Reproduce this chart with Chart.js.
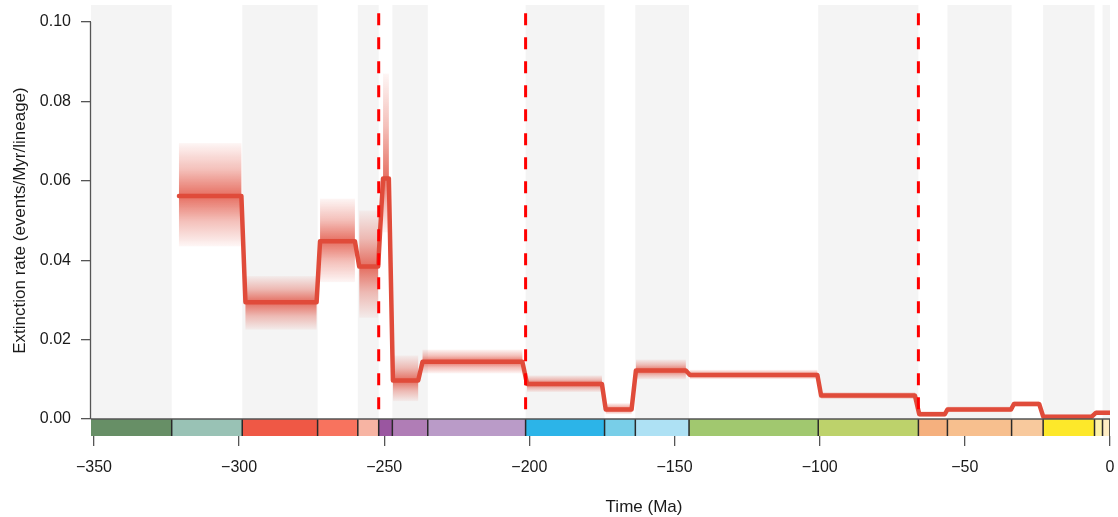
<!DOCTYPE html>
<html>
<head>
<meta charset="utf-8">
<title>Extinction rate through time</title>
<script src="https://cdn.jsdelivr.net/npm/chart.js@4"></script>
<style>
    html, body { margin: 0; padding: 0; background: #ffffff; }
    #wrap { width: 1118px; height: 517px; }
</style>
</head>
<body>
<div id="wrap"><canvas id="rates" width="1118" height="517"></canvas></div>
<script>
// === Rate regimes (Ma) and mean extinction rate (events/Myr/lineage) ===
const segStart = [-320.7, -297.8, -272.1, -258.6, -250.4, -247.0, -236.8, -200.8, -173.7, -163.3, -144.7, -99.5, -65.7, -56.0, -33.1, -23.0, -4.8];
const segEnd   = [-299.2, -273.3, -260.1, -252.1, -248.4, -238.3, -202.4, -175.0, -164.8, -146.1, -100.8, -67.2, -56.9, -34.1, -24.4, -6.3, 0];
const rate     = [0.0562, 0.0294, 0.0448, 0.0384, 0.0606, 0.0097, 0.0144, 0.0088, 0.0024, 0.0122, 0.0111, 0.0059, 0.0012, 0.0024, 0.0038, 0.0006, 0.0016];
const rateHigh = [0.0695, 0.0360, 0.0555, 0.0525, 0.0870, 0.0160, 0.0175, 0.0110, 0.0040, 0.0150, 0.0124, 0.0068, 0.0020, 0.0032, 0.0046, 0.0012, 0.0022];
const rateLow  = [0.0435, 0.0225, 0.0345, 0.0255, 0.0470, 0.0045, 0.0115, 0.0068, 0.0012, 0.0100, 0.0100, 0.0050, 0.0005, 0.0017, 0.0031, 0.0001, 0.0010];

// === Mass extinction events (Ma) ===
const eventTimes = [-251.9, -201.3, -66.0];
const eventTop = 0.1022;

// === Geological time scale ===
const unitStart = [-358.9, -323.2, -298.9, -272.95, -259.1, -251.9, -247.2, -235.0, -201.3, -174.1, -163.5, -145.0, -100.5, -66.0, -56.0, -33.9, -23.03, -5.333, -2.58, -0.0117];
const unitEnd   = [-323.2, -298.9, -272.95, -259.1, -251.9, -247.2, -235.0, -201.3, -174.1, -163.5, -145.0, -100.5, -66.0, -56.0, -33.9, -23.03, -5.333, -2.58, -0.0117, 0];
const unitColor = ["#678F66", "#99C2B5", "#EF5845", "#F8735E", "#F7B4A3", "#9A56A0", "#B07DB6", "#BA9BC8",
                   "#2CB4E8", "#78CEE8", "#AEE1F4", "#A1C86F", "#BDD26B", "#F5B07E", "#F7BF8E", "#F8C99D",
                   "#FDE82A", "#FEF2A8", "#FEEDC4", "#FEF2E0"];

// === Axis ticks ===
const xTicks = [-350, -300, -250, -200, -150, -100, -50, 0];
const yTicks = [0, 0.02, 0.04, 0.06, 0.08, 0.10];

const FONT = "'Liberation Sans', Arial, Helvetica, sans-serif";
const LINE_RGB = "224, 75, 58";

const stepPoints = [];
segStart.forEach((s, i) => {
    stepPoints.push({ x: s, y: rate[i] }, { x: segEnd[i], y: rate[i] });
});

// no extra label padding, chart area is set by layout.padding and afterFit
const noPadding = (s) => {
    s.paddingTop = 0;
    s.paddingBottom = 0;
    s.paddingLeft = 0;
    s.paddingRight = 0;
};

// === Backdrop, shading and time scale ===
const timescalePlugin = {
    id: "timescale",
    beforeDatasetsDraw(chart) {
        const { ctx, chartArea, scales: { x, y } } = chart;
        const y0 = y.getPixelForValue(0);
        ctx.save();
        ctx.beginPath();
        ctx.rect(chartArea.left, chartArea.top, chartArea.right - chartArea.left, chartArea.bottom - chartArea.top);
        ctx.clip();

        // alternating grey bands
        ctx.fillStyle = "#F4F4F4";
        unitStart.forEach((s, i) => {
            if (i % 2) return;
            const x0 = x.getPixelForValue(s);
            const x1 = x.getPixelForValue(unitEnd[i]);
            ctx.fillRect(x0, chartArea.top, x1 - x0, y0 - chartArea.top);
        });

        // uncertainty shading
        segStart.forEach((s, i) => {
            const x0 = x.getPixelForValue(s);
            const x1 = x.getPixelForValue(segEnd[i]);
            const top = y.getPixelForValue(rateHigh[i]);
            const bot = y.getPixelForValue(rateLow[i]);
            const mid = y.getPixelForValue(rate[i]);
            const m = Math.min(0.98, Math.max(0.02, (mid - top) / (bot - top)));
            const g = ctx.createLinearGradient(0, top, 0, bot);
            g.addColorStop(0, `rgba(${LINE_RGB}, 0.05)`);
            g.addColorStop(m * 0.5, `rgba(${LINE_RGB}, 0.35)`);
            g.addColorStop(m, `rgba(${LINE_RGB}, 0.8)`);
            g.addColorStop(m + (1 - m) * 0.5, `rgba(${LINE_RGB}, 0.35)`);
            g.addColorStop(1, `rgba(${LINE_RGB}, 0.05)`);
            ctx.fillStyle = g;
            ctx.fillRect(x0, top, x1 - x0, bot - top);
        });
        ctx.restore();
    },
    afterDatasetsDraw(chart) {
        const { ctx, chartArea, scales: { x, y } } = chart;
        const y0 = y.getPixelForValue(0);
        ctx.save();
        ctx.beginPath();
        ctx.rect(chartArea.left, chartArea.top, chartArea.right - chartArea.left, chartArea.bottom - chartArea.top + 1);
        ctx.clip();

        // coloured period / epoch boxes
        unitStart.forEach((s, i) => {
            const x0 = x.getPixelForValue(s);
            const x1 = x.getPixelForValue(unitEnd[i]);
            ctx.fillStyle = unitColor[i];
            ctx.fillRect(x0, y0, x1 - x0, chartArea.bottom - y0);
        });
        ctx.strokeStyle = "#2a2a2a";
        ctx.lineWidth = 1.5;
        unitStart.forEach((s) => {
            const px = x.getPixelForValue(s);
            ctx.beginPath();
            ctx.moveTo(px, y0);
            ctx.lineTo(px, chartArea.bottom);
            ctx.stroke();
        });
        ctx.strokeStyle = "#555555";
        ctx.lineWidth = 1.3;
        ctx.beginPath();
        ctx.moveTo(chartArea.left, y0);
        ctx.lineTo(chartArea.right, y0);
        ctx.stroke();
        ctx.restore();

        // y axis line, from first to last tick
        ctx.save();
        ctx.strokeStyle = "#555555";
        ctx.lineWidth = 1.3;
        ctx.beginPath();
        ctx.moveTo(chartArea.left - 0.5, y.getPixelForValue(yTicks[0]));
        ctx.lineTo(chartArea.left - 0.5, y.getPixelForValue(yTicks[yTicks.length - 1]));
        ctx.stroke();

        // x axis title
        ctx.fillStyle = "#1a1a1a";
        ctx.font = `17px ${FONT}`;
        ctx.textAlign = "center";
        ctx.textBaseline = "middle";
        ctx.fillText("Time (Ma)", 644, 507);
        ctx.restore();
    },
};

const eventSets = eventTimes.map((t) => ({
    data: [{ x: t, y: eventTop }, { x: t, y: 0 }],
    borderColor: "#FF0000",
    borderWidth: 3,
    borderDash: [12, 12],
    pointRadius: 0,
    order: 0,
}));

const chart = new Chart(document.getElementById("rates"), {
    type: "line",
    data: {
        datasets: [
            ...eventSets,
            {
                data: stepPoints,
                borderColor: `rgb(${LINE_RGB})`,
                borderWidth: 4.5,
                borderCapStyle: "round",
                borderJoinStyle: "round",
                pointRadius: 0,
                tension: 0,
                order: 1,
            },
        ],
    },
    options: {
        responsive: false,
        animation: false,
        layout: { padding: { top: 5, right: 8, left: 0, bottom: 0 } },
        plugins: {
            legend: { display: false },
            tooltip: { enabled: false },
        },
        scales: {
            x: {
                type: "linear",
                min: -351,
                max: 0,
                afterBuildTicks: (s) => { s.ticks = xTicks.map((v) => ({ value: v })); },
                afterFit: (s) => { s.height = 81; noPadding(s); },
                border: { display: false },
                grid: { drawOnChartArea: false, drawTicks: true, tickLength: 10, color: "#555555", lineWidth: 1.3 },
                ticks: {
                    autoSkip: false,
                    maxRotation: 0,
                    padding: 12,
                    color: "#1a1a1a",
                    font: { family: FONT, size: 16 },
                    callback: (v) => (v < 0 ? "\u2212" + Math.abs(v) : String(v)),
                },
            },
            y: {
                min: -0.00428,
                max: 0.10428,
                afterBuildTicks: (s) => { s.ticks = yTicks.map((v) => ({ value: v })); },
                afterFit: (s) => { s.width = 91; noPadding(s); },
                border: { display: false },
                grid: { drawOnChartArea: false, drawTicks: true, tickLength: 10, color: "#555555", lineWidth: 1.3 },
                ticks: {
                    padding: 10,
                    color: "#1a1a1a",
                    font: { family: FONT, size: 16 },
                    callback: (v) => v.toFixed(2),
                },
                title: {
                    display: true,
                    text: "Extinction rate (events/Myr/lineage)",
                    color: "#1a1a1a",
                    font: { family: FONT, size: 17 },
                    padding: { top: 10, bottom: 0 },
                },
            },
        },
    },
    plugins: [timescalePlugin],
});
</script>
</body>
</html>
